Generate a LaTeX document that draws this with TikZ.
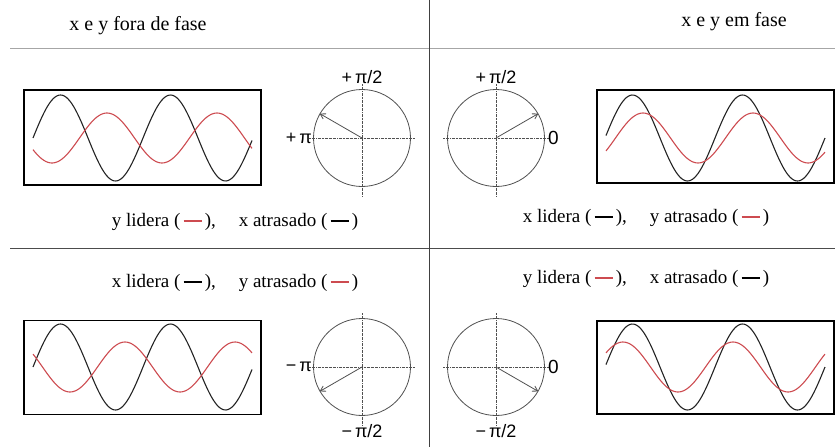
\documentclass[tikz,border=0pt]{standalone}
\usepackage{fontspec}
\setmainfont{Liberation Serif}
\newfontfamily\labelfont{Liberation Sans}
\usetikzlibrary{arrows.meta}

\definecolor{wavered}{RGB}{205,75,80}
\definecolor{waveblack}{RGB}{35,35,35}
\definecolor{axisgray}{RGB}{80,80,80}

\newcommand{\legdash}[1]{\,\textcolor{#1}{\rule[0.25em]{0.95em}{1.6pt}}\,}

\begin{document}
\begin{tikzpicture}[x=1pt, y=-1pt,
    wave/.style={line width=1.1pt, waveblack},
    redwave/.style={line width=1.1pt, wavered},
    plotbox/.style={draw, line width=1.3pt, black},
    phasor/.style={draw=axisgray, circle, line width=0.8pt, minimum size=97pt, inner sep=0pt},
    axis/.style={axisgray, line width=0.6pt, dash pattern=on 2pt off 0.8pt on 0.6pt off 0.8pt},
    vec/.style={axisgray, line width=0.8pt, -{Straight Barb[length=5pt, width=6pt]}},
    ang/.style={font=\labelfont\fontsize{18}{18}\selectfont, inner sep=0pt},
    caption/.style={font=\fontsize{19}{21}\selectfont, inner sep=0pt},
    grid/.style={line width=0.9pt}]
  \useasboundingbox (0,0) rectangle (835,447);

  % cell borders
  \draw[grid, black!35] (10,48) -- (835,48);
  \draw[grid, black!70] (10,248) -- (835,248);
  \draw[grid, black!75] (429,0) -- (429,447);

  % titles
  \node[caption, font=\fontsize{20}{22}\selectfont] (tfora) at (138,26) {x e y fora de fase};
  \node[caption, font=\fontsize{20}{22}\selectfont] (tem) at (734,22) {x e y em fase};

  % phase circles
  \node[phasor] (pa) at (362,138) {};
  \node[phasor] (pb) at (496,138) {};
  \node[phasor] (pc) at (362,367) {};
  \node[phasor] (pd) at (496,367) {};

  \foreach \p in {pa,pb,pc,pd} {
    \draw[axis] ([xshift=-4pt]\p.west) -- ([xshift=4pt]\p.east);
    \draw[axis] ([yshift=5pt]\p.north) -- ([yshift=-10pt]\p.south);
  }
  \draw[vec] (pa.center) -- (pa.150);
  \draw[vec] (pb.center) -- (pb.30);
  \draw[vec] (pc.center) -- (pc.210);
  \draw[vec] (pd.center) -- (pd.-30);

  \node[ang, anchor=south] (pa-up) at ([yshift=5pt]pa.north) {+\,π/2};
  \node[ang, anchor=east] (pa-left) at ([xshift=-1pt]pa.west) {+\,π};
  \node[ang, anchor=south] (pb-up) at ([yshift=5pt]pb.north) {+\,π/2};
  \node[ang, anchor=west] (pb-right) at ([xshift=3pt]pb.east) {\fontsize{19}{19}\selectfont 0};
  \node[ang, anchor=east] (pc-left) at ([xshift=-1pt]pc.west) {−\,π};
  \node[ang, anchor=north] (pc-down) at ([yshift=-8pt]pc.south) {−\,π/2};
  \node[ang, anchor=west] (pd-right) at ([xshift=3pt]pd.east) {\fontsize{19}{19}\selectfont 0};
  \node[ang, anchor=north] (pd-down) at ([yshift=-8pt]pd.south) {−\,π/2};

  % wave boxes
  \node[plotbox, minimum width=237pt, minimum height=95pt] (wa) at (142.5,137.5) {};
  \node[plotbox, minimum width=237pt, minimum height=93pt] (wb) at (715.5,136.5) {};
  \node[plotbox, minimum width=237pt, minimum height=94pt] (wc) at (142.5,367.5) {};
  \node[plotbox, minimum width=237pt, minimum height=93pt] (wd) at (715.5,367.5) {};

  % 110 units per period: 360/110 = 3.2727
  \draw[wave] plot[domain=33:252, samples=120, smooth] (\x, {138-43*sin(3.2727*(\x-33))});
  \draw[redwave] plot[domain=33:252, samples=120, smooth] (\x, {138-25*cos(3.2727*(\x-107))});

  \draw[wave] plot[domain=606:825, samples=120, smooth] (\x, {138-43*sin(3.2727*(\x-605))});
  \draw[redwave] plot[domain=606:825, samples=120, smooth] (\x, {138-25*cos(3.2727*(\x-643))});

  \draw[wave] plot[domain=33:252, samples=120, smooth] (\x, {367-43*sin(3.2727*(\x-33))});
  \draw[redwave] plot[domain=33:252, samples=120, smooth] (\x, {367-25*cos(3.2727*(\x-125))});

  \draw[wave] plot[domain=606:825, samples=120, smooth] (\x, {367-43*sin(3.2727*(\x-605))});
  \draw[redwave] plot[domain=606:825, samples=120, smooth] (\x, {367-25*cos(3.2727*(\x-623))});

  % captions
  \node[caption] (ca) at (235,222) {y lidera (\legdash{wavered}),\hspace{1.2em}x atrasado (\legdash{black})};
  \node[caption] (cb) at (646,218) {x lidera (\legdash{black}),\hspace{1.2em}y atrasado (\legdash{wavered})};
  \node[caption] (cc) at (235,283) {x lidera (\legdash{black}),\hspace{1.2em}y atrasado (\legdash{wavered})};
  \node[caption] (cd) at (646,279) {y lidera (\legdash{wavered}),\hspace{1.2em}x atrasado (\legdash{black})};
\end{tikzpicture}
\end{document}
